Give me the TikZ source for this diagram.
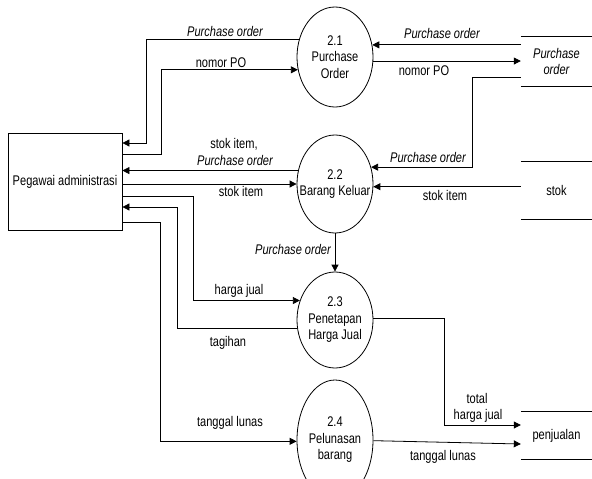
\documentclass[tikz,border=0pt]{standalone}
\usepackage{fontspec}
\setmainfont{Liberation Sans}[FakeStretch=0.79]
\usetikzlibrary{arrows.meta,shapes.geometric,calc}
\begin{document}
\begin{tikzpicture}[x=1pt,y=-1pt,
  font=\fontsize{14}{16.5}\selectfont,
  proc/.style={draw, ellipse, minimum width=76pt, minimum height=98pt, inner sep=0pt, line width=0.8pt},
  ptext/.style={label={[align=center, inner sep=0pt]center:#1}},
  ent/.style={draw, minimum width=114pt, minimum height=97pt, inner sep=0pt, line width=0.8pt},
  store/.style={minimum width=71pt, inner sep=0pt, align=center},
  storeline/.style={line width=0.8pt},
  flow/.style={line width=0.8pt, -{Triangle[length=7pt,width=7pt]}},
  lbl/.style={inner sep=0pt, align=center},
  it/.style={font=\fontsize{14}{16.5}\selectfont\itshape}]
\useasboundingbox (0,0) rectangle (592,479);
\begin{scope}
\clip (0,0) rectangle (592,479);
% entity
\node[ent] (adm) at (65,181.5) {Pegawai administrasi};
% processes
\node[proc, minimum height=100pt, ptext={2.1\\Purchase\\Order}] (p21) at (335,57) {};
\node[proc, ptext={2.2\\Barang Keluar}] (p22) at (335,184) {};
\node[proc, minimum height=96pt, ptext={2.3\\Penetapan\\Harga Jual}] (p23) at (335,320) {};
\node[proc, minimum height=120pt, ptext={2.4\\Pelunasan\\barang}] (p24) at (335,440) {};
% stores
\node[store, minimum height=49pt, it] (sPO) at (556.5,61.5) {Purchase\\order};
\node[store, minimum height=57pt] (sStok) at (556.5,190.5) {stok};
\node[store, minimum height=47pt] (sPen) at (556.5,435.5) {penjualan};
\draw[storeline] (sPO.north west) -- (sPO.north east) (sPO.south west) -- (sPO.south east);
\draw[storeline] (sStok.north west) -- (sStok.north east) (sStok.south west) -- (sStok.south east);
\draw[storeline] (sPen.north west) -- (sPen.north east) (sPen.south west) -- (sPen.south east);
% left side flows
\draw[flow] (p21.154.5) -| (146,143) -- (adm.east |- 0,143);
\draw[flow] (adm.east |- 0,154) -- (161,154) |- (p21.199.5);
\draw[flow] (p22.160.4) -- (adm.east |- p22.160.4);
\draw[flow] (adm.east |- p22.180) -- (p22.180);
\draw[flow] (adm.east |- 0,196) -- (193,196) |- (p23.151.4);
\draw[flow] (p23.193.6) -| (177,207) -- (adm.east |- 0,207);
\draw[flow] (adm.east |- 0,222) -- (160,222) |- (p24.182);
% right side flows
\draw[flow] (sPO.west |- p21.18) -- (p21.18);
\draw[flow] (p21.-6) -- (sPO.west |- p21.-6);
\draw[flow] (sPO.west |- 0,77) -- (472,77) |- (p22.25.5);
\draw[flow] (sStok.west |- p22.-4.5) -- (p22.-4.5);
\draw[flow] (p22.south) -- (p23.north);
\draw[flow] (p23.3) -| (444,425) -- (sPen.west |- 0,425);
\draw[flow] (p24.-1) -- (sPen.west |- 0,444);
\end{scope}
% labels
\node[lbl, it] (l1) at (225,31) {Purchase order};
\node[lbl] (l2) at (221,63) {nomor PO};
\node[lbl] (l3a) at (234,144) {stok item,};
\node[lbl, it] (l3b) at (235,160) {Purchase order};
\node[lbl] (l4) at (241,191) {stok item};
\node[lbl] (l5) at (239,291) {harga jual};
\node[lbl] (l6) at (228,343) {tagihan};
\node[lbl] (l7) at (230,423) {tanggal lunas};
\node[lbl, it] (l8) at (442,33) {Purchase order};
\node[lbl] (l9) at (424,71) {nomor PO};
\node[lbl, it] (l10) at (428,157) {Purchase order};
\node[lbl] (l11) at (445,195) {stok item};
\node[lbl, it, anchor=east] (l12) at (331,249) {Purchase order};
\node[lbl] (l13a) at (477,398) {total};
\node[lbl] (l13b) at (478,416) {harga jual};
\node[lbl] (l14) at (443,457) {tanggal lunas};
\end{tikzpicture}
\end{document}
